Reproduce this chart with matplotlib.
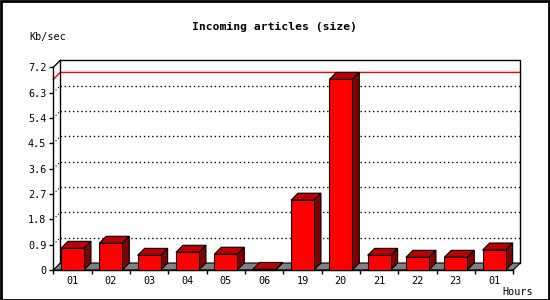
import matplotlib
matplotlib.use("Agg")
import matplotlib.pyplot as plt
from matplotlib.patches import Rectangle, Polygon

hours = ["01", "02", "03", "04", "05", "06", "19", "20", "21", "22", "23", "01"]
values = [0.77, 0.95, 0.52, 0.63, 0.56, 0.02, 2.48, 6.77, 0.52, 0.45, 0.45, 0.71]
yticks = [0, 0.9, 1.8, 2.7, 3.6, 4.5, 5.4, 6.3, 7.2]
ytick_labels = ["0", "0.9", "1.8", "2.7", "3.6", "4.5", "5.4", "6.3", "7.2"]
title = "Incoming articles (size)"
ylabel = "Kb/sec"
xlabel = "Hours"
max_value = max(values)

W, H = 550, 300
fig = plt.figure(figsize=(W / 100, H / 100), dpi=100)
fig.patch.set_facecolor("white")

left_px, right_px, top_px, bot_px = 53.3, 513.3, 67.3, 270.0
ax = fig.add_axes([left_px / W, (H - bot_px) / H, (right_px - left_px) / W, (bot_px - top_px) / H])
n = len(values)
ymax = 7.2
ax.set_xlim(0, n)
ax.set_ylim(0, ymax)
ax.set_facecolor("none")
for s in ["top", "right"]:
    ax.spines[s].set_visible(False)
ax.spines["left"].set_linewidth(1)
ax.spines["bottom"].set_linewidth(1)

depth_px = 7.0
dx = depth_px / ((right_px - left_px) / n)
dy = depth_px / ((bot_px - top_px) / ymax)

mono = "DejaVu Sans Mono"
ax.set_yticks(yticks)
ax.set_yticklabels(ytick_labels, fontsize=7.3, family=mono)
ax.set_xticks(range(n + 1))
ax.set_xticklabels([""] * (n + 1))
ax.tick_params(axis="both", length=3, width=1, direction="out", pad=2)
for i, h in enumerate(hours):
    ax.text(i + 0.5, -0.22, h, ha="center", va="top", fontsize=7.3, family=mono)

# floor
floor = Polygon([(0, 0), (n, 0), (n + dx, dy), (dx, dy)], closed=True,
                facecolor="#808080", edgecolor="black", lw=0.8, clip_on=False, zorder=1)
ax.add_patch(floor)

# back wall frame
ax.plot([dx, dx, n + dx, n + dx], [dy, ymax + dy, ymax + dy, dy], color="black", lw=1,
        clip_on=False, zorder=1.5)
ax.plot([0, dx], [ymax, ymax + dy], color="black", lw=1, clip_on=False, zorder=1.5)

# dotted grid on back wall with diagonal connectors
for t in yticks[1:-1]:
    ax.plot([dx, n + dx], [t + dy, t + dy], color="black", lw=1, ls=(0, (1, 2)),
            clip_on=False, zorder=1.2)
    ax.plot([0, dx], [t, t + dy], color="black", lw=0.8, ls=(0, (1, 2)),
            clip_on=False, zorder=1.2)

# max line (red)
ax.plot([0, dx, n + dx], [max_value, max_value + dy, max_value + dy], color="red", lw=1,
        clip_on=False, zorder=1.3)

# 3D bars
bw = 0.6
for i, v in enumerate(values):
    x0 = i + 0.5 - bw / 2
    x1 = x0 + bw
    ax.add_patch(Polygon([(x0, v), (x1, v), (x1 + dx, v + dy), (x0 + dx, v + dy)],
                         closed=True, facecolor="#b80000", edgecolor="black", lw=0.8,
                         clip_on=False, zorder=3))
    ax.add_patch(Polygon([(x1, 0), (x1 + dx, dy), (x1 + dx, v + dy), (x1, v)],
                         closed=True, facecolor="#800000", edgecolor="black", lw=0.8,
                         clip_on=False, zorder=3))
ax.bar([i + 0.5 for i in range(n)], values, width=bw, color="#ff0000", edgecolor="black",
       linewidth=0.8, zorder=4, clip_on=False)

fig.text(274 / W, 1 - 26.5 / H, title, ha="center", va="center", fontsize=8.2,
         family=mono, weight="bold")
fig.text(29 / W, 1 - 37 / H, ylabel, ha="left", va="center", fontsize=7.3, family=mono)
fig.text(533 / W, 1 - 292 / H, xlabel, ha="right", va="center", fontsize=7.3, family=mono)

fig.add_artist(Rectangle((0.5 / W, 0.5 / H), 1 - 1.5 / W, 1 - 1.5 / H, transform=fig.transFigure,
                         fill=False, edgecolor="black", lw=2))

fig.savefig("out.png", dpi=100)
